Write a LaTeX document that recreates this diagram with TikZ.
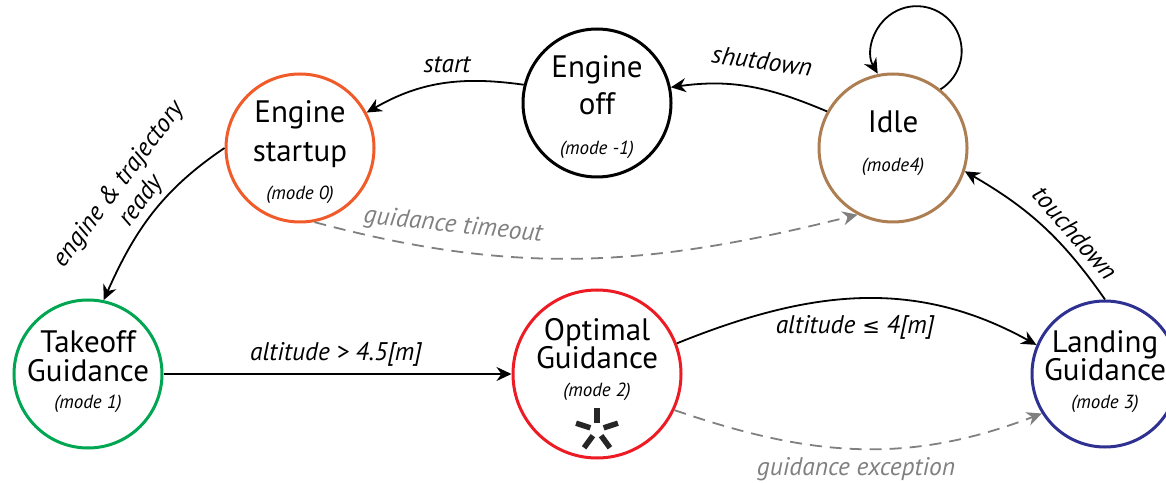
\documentclass[tikz,border=0pt]{standalone}
\usepackage{fontspec}
\setmainfont{PT Sans}
\newfontfamily\symfont{DejaVu Sans}
\usetikzlibrary{arrows.meta}

\definecolor{cStartup}{RGB}{241,90,41}
\definecolor{cIdle}{RGB}{172,126,82}
\definecolor{cTakeoff}{RGB}{0,166,81}
\definecolor{cOptimal}{RGB}{237,28,36}
\definecolor{cLanding}{RGB}{46,49,146}
\definecolor{cDash}{RGB}{128,128,128}

\tikzset{
  state/.style={circle, draw, line width=3pt, minimum size=148pt, inner sep=0pt},
  nametext/.style={font=\fontsize{31}{36}\selectfont, inner sep=0pt, anchor=base},
  modetext/.style={font=\fontsize{19}{22}\selectfont\itshape, inner sep=0pt, anchor=base},
  trans/.style={line width=1.8pt, -{Stealth[length=15pt,width=14pt]}},
  dashtrans/.style={line width=1.8pt, cDash, dash pattern=on 12pt off 8pt,
    -{Stealth[length=15pt,width=14pt]}},
  translabel/.style={font=\fontsize{25.5}{28}\selectfont\itshape, inner sep=0pt},
}

\begin{document}
\begin{tikzpicture}[x=1pt, y=1pt]
  \useasboundingbox (0,0) rectangle (1166,482);

  % states
  \node[state, draw=cStartup] (S) at (300,334) {};
  \node[state, draw=black]    (O) at (597,379) {};
  \node[state, draw=cIdle]    (I) at (893,334) {};
  \node[state, draw=cTakeoff] (T) at (88,108) {};
  \node[state, draw=cOptimal, minimum size=168pt] (P) at (597,108) {};
  \node[state, draw=cLanding, minimum size=146pt] (L) at (1105,108) {};

  % state names
  \node[nametext] (S1) at (300,359) {Engine};
  \node[nametext] (S2) at (300,320) {startup};
  \node[modetext] (S3) at (300,282) {(mode 0)};

  \node[nametext] (O1) at (597,404) {Engine};
  \node[nametext] (O2) at (597,367) {off};
  \node[modetext] (O3) at (597,327) {(mode -1)};

  \node[nametext] (I1) at (893,349) {Idle};
  \node[modetext] (I3) at (893,310) {(mode4)};

  \node[nametext] (T1) at (88,130) {Takeoff};
  \node[nametext] (T2) at (88,101) {Guidance};
  \node[modetext] (T3) at (88,74) {(mode 1)};

  \node[nametext] (P1) at (597,142) {Optimal};
  \node[nametext] (P2) at (597,114) {Guidance};
  \node[modetext] (P3) at (597,86) {(mode 2)};

  \node[nametext] (L1) at (1105,130) {Landing};
  \node[nametext] (L2) at (1105,102) {Guidance};
  \node[modetext] (L3) at (1105,74) {(mode 3)};

  % asterisk mark inside the optimal guidance state
  \coordinate (star) at (597,52);
  \foreach \a in {18,90,162,234,306}
    \draw[line width=5.5pt, black!85] ([shift=(\a:7)]star) -- ([shift=(\a:22)]star);

  % transitions
  \draw[trans] (O.166) to[out=172, in=30] (S.28);
  \node[translabel, anchor=base] (lstart) at (447,409) {start};

  \draw[trans] (I.151) to[out=157, in=8] (O.12);
  \node[translabel, rotate=-8] (lshut) at (762,421) {shutdown};

  \draw[trans] (I.51) arc[start angle=-58, end angle=210, radius=45];

  \draw[trans] (L.90) to[out=125, in=-30] (I.-18);
  \node[translabel, rotate=-49] (ltouch) at (1075,249) {touchdown};

  \draw[trans] (S.180) to[out=214, in=66] (T.78);
  \node[translabel, align=center, rotate=53] (lready) at (130,289)
    {engine \& trajectory\\ready};

  \draw[trans] (T.east) -- (P.west);
  \node[translabel, anchor=base] (lup) at (336,122) {altitude > 4.5[m]};

  \draw[trans] (P.21) to[out=22, in=151] (L.157);
  \node[translabel, anchor=base] (ldown) at (855,149)
    {altitude {\upshape\symfont\fontsize{21}{24}\selectfont ≤} 4[m]};

  \draw[dashtrans] (P.-25) to[out=-19, in=201] (L.212);
  \node[translabel, anchor=base, text=cDash] (lexc) at (856,7) {guidance exception};

  \draw[dashtrans] (S.-79) to[out=-15, in=194] (I.242);
  \node[translabel, rotate=-6, text=cDash] (ltime) at (453,256) {guidance timeout};
\end{tikzpicture}
\end{document}
